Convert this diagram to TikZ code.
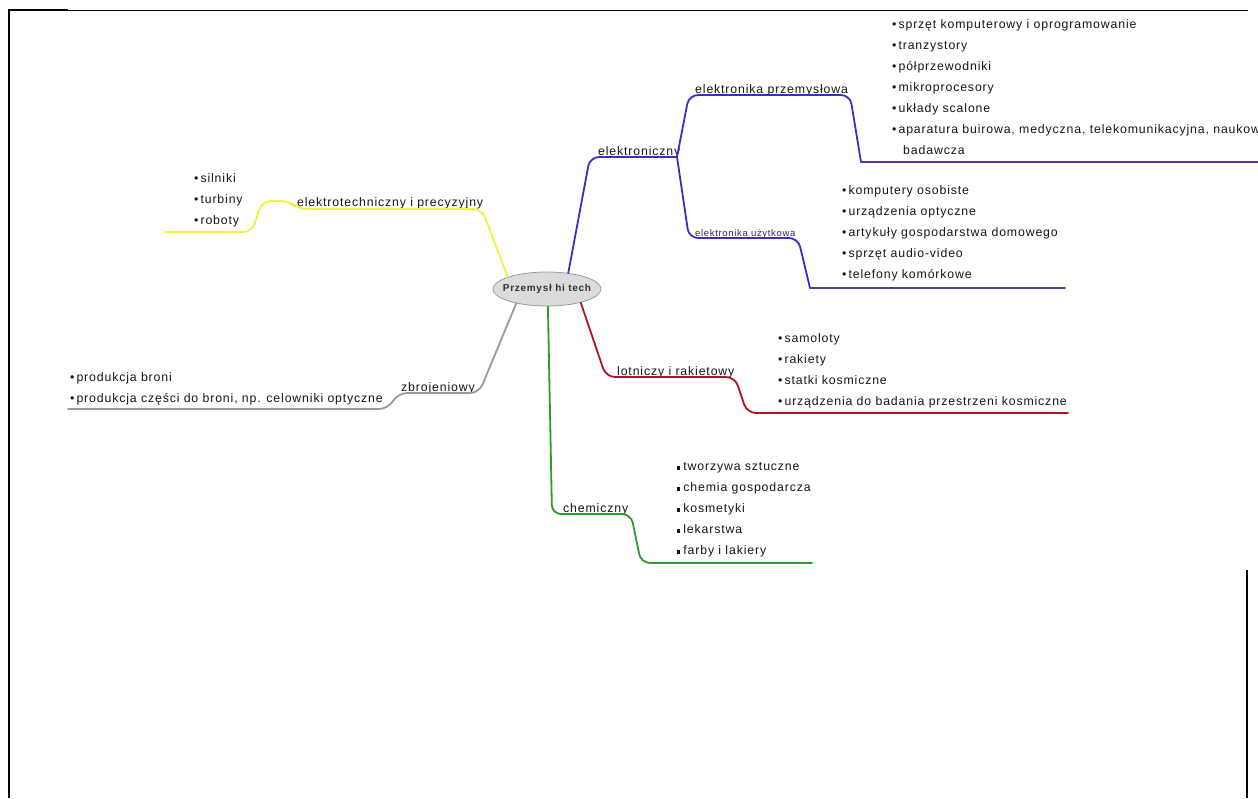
\documentclass[tikz,border=0pt]{standalone}
\usepackage{fontspec}
\setmainfont{Liberation Sans}
\newfontfamily\mapfont[LetterSpace=7]{Liberation Sans}
\usetikzlibrary{shapes.geometric}
\definecolor{cyel}{HTML}{F0F040}
\definecolor{cgray}{HTML}{9A9A9A}
\definecolor{cgreen}{HTML}{2E9A2E}
\definecolor{cred}{HTML}{B0142A}
\definecolor{cblue}{HTML}{3A2FC0}
\definecolor{cpurple}{HTML}{5A3A9A}
\definecolor{ctext}{HTML}{161616}
\tikzset{
  itemtext/.style={anchor=base west, inner sep=0pt, text=ctext, font=\mapfont\fontsize{12.3}{14}\selectfont},
  labeltext/.style={anchor=base west, inner sep=0pt, text=ctext, font=\mapfont\fontsize{12.3}{14}\selectfont},
  smalllabel/.style={anchor=base west, inner sep=0pt, text=cpurple!60!black, font=\mapfont\fontsize{9.5}{11}\selectfont},
  branch/.style={line width=1.8pt, rounded corners=9pt, line cap=round},
  centerbox/.style={ellipse, draw=gray!80, line width=0.8pt, fill=gray!28, minimum width=108pt, minimum height=34pt, inner sep=0pt, text=black!80, font=\mapfont\fontsize{10}{11}\selectfont\bfseries},
  frameline/.style={line width=2.5pt, black}
}
\begin{document}
\begin{tikzpicture}[x=1pt,y=-1pt]
\useasboundingbox (0,0) rectangle (1258,798);
\clip (0,0) rectangle (1258,798);
% frame
\draw[black, line width=0.8pt] (8,10) -- (1248,10);
\draw[frameline] (8,10) -- (68,10);
\draw[frameline] (9,9) -- (9,798);
\draw[frameline] (1247,570) -- (1247,798);

% centre
\node[centerbox] (c) at (547,289) {\makebox[0pt]{Przemysł hi tech}};

% labels
\node[labeltext] (elt) at (297,206) {elektrotechniczny i precyzyjny};
\node[labeltext] (zbr) at (401,391) {zbrojeniowy};
\node[labeltext] (che) at (563,512) {chemiczny};
\node[labeltext] (lot) at (617,375) {lotniczy i rakietowy};
\node[labeltext] (ele) at (598,155) {elektroniczny};
\node[labeltext] (prz) at (695,93) {elektronika przemysłowa};
\node[smalllabel] (uzy) at (695,236) {elektronika użytkowa};

% coordinates of bends
\coordinate (y1) at (482,209); \coordinate (y2) at (298,209);
\coordinate (y3) at (289,201); \coordinate (y4) at (262,201);
\coordinate (y5) at (252,232); \coordinate (y6) at (165,232);
\coordinate (g1) at (479,393); \coordinate (g2) at (398,393);
\coordinate (g3) at (388,409); \coordinate (g4) at (68,409);
\coordinate (v1) at (552,514); \coordinate (v2) at (631,514);
\coordinate (v3) at (641,563); \coordinate (v4) at (812,563);
\coordinate (r1) at (606,377); \coordinate (r2) at (735,377);
\coordinate (r3) at (747,413); \coordinate (r4) at (1068,413);
\coordinate (b1) at (590,157); \coordinate (b2) at (677,157);
\coordinate (b3) at (689,95);  \coordinate (b4) at (850,95);
\coordinate (b5) at (861,162); \coordinate (b6) at (1258,162);
\coordinate (b7) at (689,238); \coordinate (b8) at (798,238);
\coordinate (b9) at (810,288); \coordinate (b10) at (1065,288);

% branches
\draw[branch, cyel] (c.163) -- (y1) -- (y2) -- (y3) -- (y4) -- (y5) -- (y6);
\draw[branch, cgray] (c.205) -- (g1) -- (g2) -- (g3) -- (g4);
\draw[branch, cgreen] (c.273) -- (v1) -- (v2) -- (v3) -- (v4);
\draw[branch, cred] (c.338) -- (r1) -- (r2) -- (r3) -- (r4);
\draw[branch, cblue] (c.37) -- (b1) -- (b2);
\draw[branch, cblue] (b2) -- (b3) -- (b4) -- (b5);
\draw[branch, cpurple, rounded corners=0pt] (b5) -- (b6);
\draw[branch, cblue] (b2) -- (b7) -- (b8) -- (b9);
\draw[branch, cpurple, rounded corners=0pt] (b9) -- (b10);

% lists
\foreach \t [count=\i] in {silniki, turbiny, roboty}
  \node[itemtext] (elt\i) at (194,{182+21*(\i-1)}) {•\,\t};
\foreach \t [count=\i] in {sprzęt komputerowy i oprogramowanie, tranzystory, półprzewodniki, mikroprocesory, układy scalone, {aparatura buirowa, medyczna, telekomunikacyjna, naukowo-}}
  \node[itemtext] (prz\i) at (892,{28+21*(\i-1)}) {•\,\t};
\node[itemtext] (prz7) at (903,154) {badawcza};
\foreach \t [count=\i] in {komputery osobiste, urządzenia optyczne, artykuły gospodarstwa domowego, sprzęt audio-video, telefony komórkowe}
  \node[itemtext] (uzy\i) at (842,{194+21*(\i-1)}) {•\,\t};
\foreach \t [count=\i] in {samoloty, rakiety, statki kosmiczne, urządzenia do badania przestrzeni kosmiczne}
  \node[itemtext] (lot\i) at (778,{342+21*(\i-1)}) {•\,\t};
\foreach \t [count=\i] in {tworzywa sztuczne, chemia gospodarcza, kosmetyki, lekarstwa, farby i lakiery}
  \node[itemtext] (che\i) at (677,{470+21*(\i-1)}) {\rule[0.5pt]{3.2pt}{3.6pt}\hspace{3pt}\t};
\foreach \t [count=\i] in {produkcja broni, {produkcja części do broni, np. celowniki optyczne}}
  \node[itemtext] (zbr\i) at (70,{381+21*(\i-1)}) {•\,\t};
\end{tikzpicture}
\end{document}
